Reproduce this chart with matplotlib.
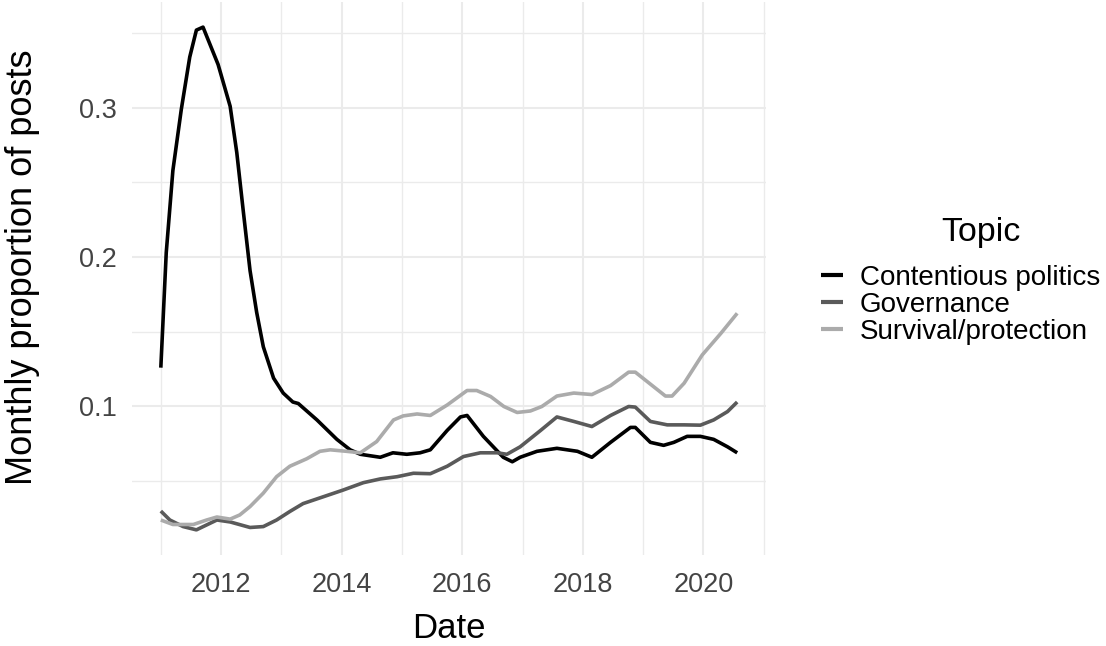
import numpy as np
import matplotlib
matplotlib.use("Agg")
import matplotlib.pyplot as plt

plt.rcParams['font.family'] = ['Liberation Sans', 'DejaVu Sans']

# Contentious politics (decimal year, monthly proportion)
cont_t = [2011.00, 2011.09, 2011.20, 2011.34, 2011.48, 2011.59, 2011.70, 2011.95,
          2012.15, 2012.26, 2012.37, 2012.48, 2012.59, 2012.70, 2012.87, 2013.03,
          2013.19, 2013.28, 2013.59, 2013.92, 2014.14, 2014.31, 2014.64, 2014.85,
          2015.08, 2015.30, 2015.47, 2015.75, 2015.97, 2016.08, 2016.35, 2016.68,
          2016.83, 2016.96, 2017.24, 2017.57, 2017.91, 2018.15, 2018.46, 2018.79,
          2018.87, 2019.12, 2019.34, 2019.51, 2019.73, 2019.95, 2020.17, 2020.40,
          2020.56]
cont_v = [0.126, 0.203, 0.258, 0.299, 0.334, 0.352, 0.354, 0.329,
          0.301, 0.270, 0.230, 0.191, 0.163, 0.140, 0.119, 0.109,
          0.103, 0.102, 0.091, 0.078, 0.071, 0.068, 0.066, 0.069,
          0.068, 0.069, 0.071, 0.084, 0.093, 0.094, 0.080, 0.066,
          0.063, 0.066, 0.070, 0.072, 0.070, 0.066, 0.076, 0.086,
          0.086, 0.076, 0.074, 0.076, 0.080, 0.080, 0.078, 0.073,
          0.069]

# Governance
gov_t = [2011.00, 2011.15, 2011.37, 2011.59, 2011.76, 2011.93, 2012.15, 2012.48,
         2012.70, 2012.92, 2013.14, 2013.36, 2013.69, 2014.02, 2014.36, 2014.64,
         2014.92, 2015.19, 2015.47, 2015.75, 2016.02, 2016.30, 2016.58, 2016.74,
         2016.96, 2017.30, 2017.57, 2017.85, 2018.15, 2018.46, 2018.76, 2018.87,
         2019.12, 2019.40, 2019.68, 2019.95, 2020.17, 2020.40, 2020.56]
gov_v = [0.030, 0.024, 0.0196, 0.0174, 0.0207, 0.024, 0.0227, 0.019,
         0.0196, 0.024, 0.0297, 0.035, 0.0395, 0.044, 0.049, 0.0515,
         0.053, 0.0553, 0.055, 0.060, 0.0665, 0.069, 0.069, 0.068,
         0.073, 0.084, 0.093, 0.090, 0.0866, 0.094, 0.100, 0.0996,
         0.090, 0.0877, 0.0877, 0.0875, 0.091, 0.0966, 0.103]

# Survival/protection
surv_t = [2011.00, 2011.20, 2011.54, 2011.76, 2011.93, 2012.15, 2012.31, 2012.48,
          2012.70, 2012.92, 2013.14, 2013.42, 2013.64, 2013.81, 2014.08, 2014.31,
          2014.58, 2014.86, 2015.02, 2015.25, 2015.47, 2015.75, 2016.08, 2016.24,
          2016.47, 2016.69, 2016.91, 2017.13, 2017.32, 2017.57, 2017.85, 2018.15,
          2018.46, 2018.76, 2018.87, 2019.12, 2019.37, 2019.48, 2019.68, 2019.98,
          2020.29, 2020.56]
surv_v = [0.024, 0.021, 0.021, 0.024, 0.026, 0.0246, 0.0274, 0.033,
          0.042, 0.053, 0.060, 0.065, 0.070, 0.071, 0.070, 0.069,
          0.0765, 0.091, 0.0937, 0.095, 0.094, 0.101, 0.1107, 0.1107,
          0.1067, 0.100, 0.096, 0.097, 0.100, 0.107, 0.109, 0.108,
          0.114, 0.123, 0.123, 0.115, 0.107, 0.107, 0.1156, 0.1345,
          0.149, 0.1624]

topics = ["Contentious politics", "Governance", "Survival/protection"]
colors = ["#000000", "#5a5a5a", "#ababab"]

fig = plt.figure(figsize=(11.06, 6.46), dpi=100)
ax = fig.add_axes([132/1106, (646-555)/646, 634/1106, 553/646])

for t, v, lab, c in zip([cont_t, gov_t, surv_t], [cont_v, gov_v, surv_v], topics, colors):
    ax.plot(t, v, color=c, lw=2.6, label=lab, solid_joinstyle='round',
            solid_capstyle='butt')

ax.margins(x=0.05, y=0.05)
ax.set_xticks([2012, 2014, 2016, 2018, 2020])
ax.set_xticks([2011, 2013, 2015, 2017, 2019, 2021], minor=True)
ax.set_yticks([0.1, 0.2, 0.3])
ax.set_yticks([0.05, 0.15, 0.25, 0.35], minor=True)
ax.set_yticklabels(["0.1", "0.2", "0.3"])
ax.grid(which='major', color='#ebebeb', lw=1.5)
ax.grid(which='minor', color='#ebebeb', lw=1.0)
ax.set_axisbelow(True)
for s in ax.spines.values():
    s.set_visible(False)
ax.tick_params(which='both', length=0, labelsize=19.5, labelcolor='#444444')
ax.tick_params(axis='x', pad=12)
ax.tick_params(axis='y', pad=11)

ax.set_xlabel("Date", fontsize=25, labelpad=10)
ax.set_ylabel("Monthly proportion of posts", fontsize=26)
ax.yaxis.set_label_coords(-0.145, 0.52)

fig.text(981/1106, 1 - 233/646, "Topic", fontsize=24.5, ha='center', va='center')
leg = fig.legend(loc='center left', bbox_to_anchor=(796/1106, 1 - 305/646),
                 frameon=False, fontsize=20,
                 handlelength=0.8, handletextpad=0.6, labelspacing=0.03)
for line in leg.get_lines():
    line.set_linewidth(3)

fig.savefig("out.png", dpi=100)
